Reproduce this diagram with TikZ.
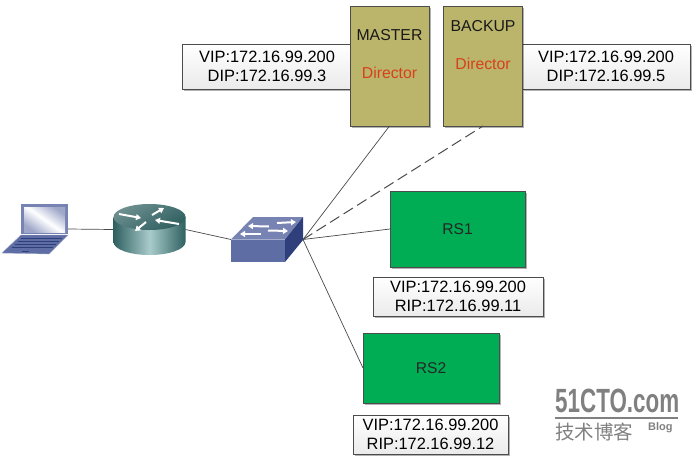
\documentclass[tikz,border=0pt]{standalone}
\usepackage{fontspec}
\setmainfont{Liberation Sans}
\newfontfamily\cjkfont{Noto Sans CJK SC}
\usetikzlibrary{arrows.meta, positioning, shadows}
\definecolor{oliveBox}{HTML}{BBB56B}
\definecolor{greenBox}{HTML}{00AD55}
\definecolor{redText}{HTML}{D8401C}
\definecolor{kabel}{HTML}{4A4A4A}
\definecolor{sakelar}{HTML}{5F6DA5}
\definecolor{sakelarGelap}{HTML}{2F3F7C}
\definecolor{tealGelap}{HTML}{2F5F60}
\definecolor{tealTerang}{HTML}{A9CBCB}

\begin{document}
\begin{tikzpicture}[
		x=1pt, y=-1pt,
		bayang/.style={drop shadow={shadow xshift=1.5pt, shadow yshift=-1.5pt, opacity=0.3, fill=black}},
		blok/.style={draw=black!70, line width=0.8pt, rectangle, inner sep=0pt, outer sep=0pt, anchor=north west, bayang},
		director/.style={blok, fill=oliveBox, minimum width=79pt, minimum height=120pt},
		server/.style={blok, fill=greenBox, text=black!85, font=\fontsize{15.6}{15}\selectfont},
		alamat/.style={blok, top color=white, bottom color=black!8, align=center, font=\fontsize{16.4}{19}\selectfont},
		judul/.style={inner sep=0pt, font=\fontsize{15.8}{16}\selectfont, text=black!90},
		ikon/.style={rectangle, inner sep=0pt, outer sep=0pt},
		panah/.style={-{Triangle[length=5pt, width=6pt]}, white, line width=2pt},
		kabelan/.style={kabel, line width=0.7pt}
	]
	\useasboundingbox (0,0) rectangle (698,461);

	% Node ikon jaringan
	\node[ikon, minimum width=66pt, minimum height=50pt] (laptop) at (35,229) {};
	\node[ikon, minimum width=72pt, minimum height=51pt] (router) at (149.5,229.5) {};
	\node[ikon, minimum width=72pt, minimum height=45pt] (sw) at (267,239.5) {};

	% Node alamat Director (di belakang kotak)
	\node[alamat, minimum width=170pt, minimum height=45pt] (dipmaster) at (182,44) {VIP:172.16.99.200\\DIP:172.16.99.3};
	\node[alamat, minimum width=168pt, minimum height=45pt] (dipbackup) at (522,44) {VIP:172.16.99.200\\DIP:172.16.99.5};

	% Node Director
	\node[director] (master) at (350,6) {};
	\node[director] (backup) at (443.5,6) {};
	\node[judul, below=23pt of master.north] (mastertitle) {MASTER};
	\node[judul, below=26pt of mastertitle, text=redText] (masterrole) {Director};
	\node[judul, below=14pt of backup.north] (backuptitle) {BACKUP};
	\node[judul, below=26pt of backuptitle, text=redText] (backuprole) {Director};

	% Node Real Server
	\node[server, minimum width=135pt, minimum height=76pt] (rs1) at (390,191) {RS1};
	\node[alamat, minimum width=170pt, minimum height=39pt] (riprs1) at (373,277) {VIP:172.16.99.200\\RIP:172.16.99.11};
	\node[server, minimum width=136pt, minimum height=70pt] (rs2) at (363,333) {RS2};
	\node[alamat, minimum width=155pt, minimum height=39pt] (riprs2) at (353,415) {VIP:172.16.99.200\\RIP:172.16.99.12};

	% Garis penghubung
	\draw[kabelan] (laptop.east) -- (router.west);
	\draw[kabelan] (router.east) -- (sw.west);
	\draw[kabelan] (sw.east) -- (master.south);
	\draw[kabelan, line width=1pt, dash pattern=on 11pt off 5pt] (sw.east) -- (backup.south);
	\draw[kabelan] (sw.east) -- (rs1.west);
	\draw[kabelan] (sw.east) -- (rs2.west);

	% Laptop
	\fill[sakelar!85!white] (21,204) rectangle (68,234);
	\shade[left color=sakelar!60, right color=sakelar!60, middle color=white, shading angle=-35] (24,207) rectangle (65,232);
	\fill[sakelar, draw=sakelar!60!white, line width=0.4pt] (2,253) -- (21,235) -- (68,235) -- (49,254) -- cycle;
	\foreach \baris in {238.5,241.5,244.5,247.5}
		\draw[sakelarGelap, line width=1.8pt] (259-\baris,\baris) -- (300-\baris,\baris);
	\draw[sakelarGelap, line width=0.8pt] (22,251.5) -- (29,251.5);

	% Router
	\shade[left color=tealGelap, right color=tealGelap, middle color=tealTerang]
		(113.5,217) -- (113.5,242) arc[start angle=180, end angle=0, x radius=36, y radius=13] -- (185.5,217) -- cycle;
	\shade[top color=tealGelap!70!white, bottom color=tealGelap, shading angle=30] (149.5,217) ellipse[x radius=36, y radius=13];
	\draw[panah] (119,214) -- (141,218);
	\draw[panah] (152,215) -- (164,208);
	\draw[panah] (179,224) -- (155,220);
	\draw[panah] (146,222) -- (135,231);

	% Switch
	\fill[sakelar] (231,239.5) rectangle (285,262);
	\fill[sakelar!85!white] (231,239.5) -- (253,217) -- (303,217) -- (285,239.5) -- cycle;
	\fill[sakelarGelap] (285,239.5) -- (303,217) -- (303,240) -- (285,262) -- cycle;
	\draw[panah, {Triangle[length=5pt, width=6pt]}-] (248,226) -- (269,226.5);
	\draw[panah] (277,223) -- (296,222);
	\draw[panah, {Triangle[length=5pt, width=6pt]}-] (240,234) -- (261,234);
	\draw[panah] (268,230.5) -- (288,231);

	% Tanda blog
	\node[anchor=west, inner sep=0pt, xscale=0.8, yscale=1.2, text=black!50, font=\fontsize{28}{28}\selectfont\bfseries] (situs) at (555,401) {51CTO.com};
	\draw[black!50, line width=1.5pt] (555,418) -- (678,418);
	\node[anchor=west, inner sep=0pt, text=black!50, font=\fontsize{19.5}{19}\selectfont\cjkfont] (blogcn) at (555,432) {技术博客};
	\node[anchor=west, inner sep=0pt, text=black!50, font=\fontsize{11}{11}\selectfont\bfseries] (blogen) at (648,428) {Blog};
\end{tikzpicture}
\end{document}
